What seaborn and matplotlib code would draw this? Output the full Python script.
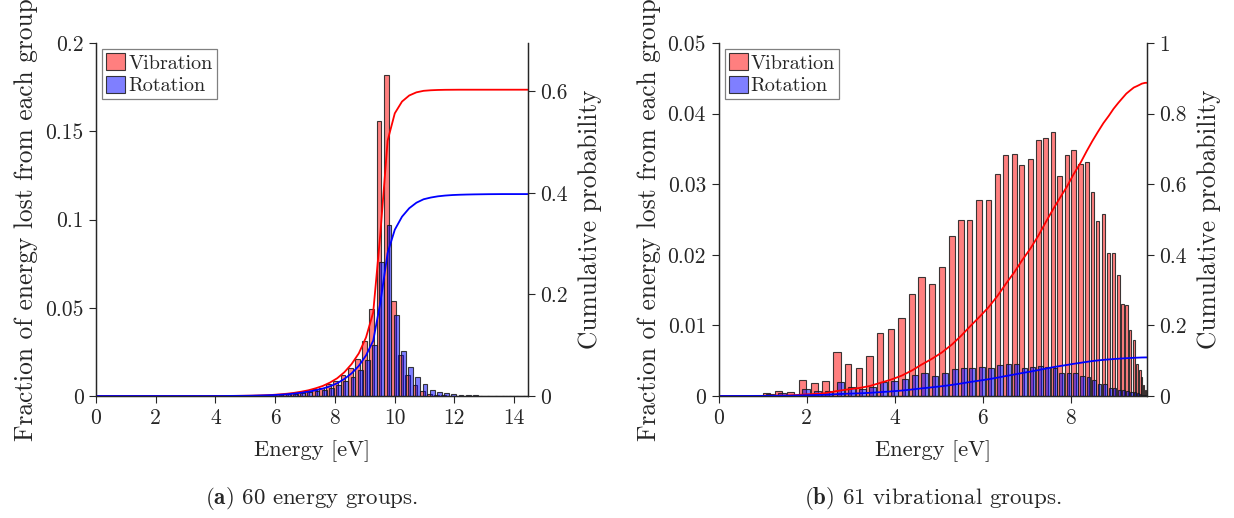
import numpy as np
import matplotlib
matplotlib.use("Agg")
import matplotlib.pyplot as plt
from matplotlib.ticker import FuncFormatter
from matplotlib.patches import Patch
import seaborn as sns

# ---------------- (a) 60 energy groups ----------------
E_MAX_A = 14.47
group_energy_a = [
    0.121, 0.362, 0.603, 0.844, 1.085, 1.326, 1.567, 1.809, 2.050, 2.291,
    2.532, 2.773, 3.015, 3.256, 3.497, 3.738, 3.979, 4.220, 4.462, 4.703,
    4.944, 5.185, 5.426, 5.667, 5.908, 6.150, 6.391, 6.632, 6.873, 7.114,
    7.356, 7.597, 7.838, 8.079, 8.320, 8.561, 8.803, 9.044, 9.285, 9.526,
    9.767, 10.008, 10.250, 10.491, 10.732, 10.973, 11.214, 11.455, 11.697, 11.938,
    12.179, 12.420, 12.661, 12.902, 13.144, 13.385, 13.626, 13.867, 14.108, 14.349,
]
vib_frac_a = [
    0, 0, 0, 0, 0, 0, 0, 0, 0, 0,
    0, 0, 0, 0, 0, 0, 0, 0.00005, 0.0001, 0.0001,
    0.0002, 0.0002, 0.0003, 0.0005, 0.0007, 0.0010, 0.0013, 0.0017, 0.0023, 0.0028,
    0.0039, 0.0047, 0.0066, 0.0085, 0.0119, 0.0160, 0.0211, 0.0313, 0.0493, 0.1560,
    0.1820, 0.0540, 0.0232, 0.0119, 0.0062, 0.0030, 0.0011, 0.0006, 0.0003, 0.0001,
    0.0001, 0, 0, 0, 0, 0, 0, 0, 0, 0,
]
rot_frac_a = [
    0, 0, 0, 0, 0, 0, 0, 0, 0, 0,
    0, 0, 0, 0, 0, 0, 0, 0.00005, 0.0001, 0.0001,
    0.0001, 0.0002, 0.0003, 0.0004, 0.0005, 0.0007, 0.0010, 0.0013, 0.0017, 0.0021,
    0.0027, 0.0034, 0.0044, 0.0061, 0.0085, 0.0109, 0.0147, 0.0206, 0.0289, 0.0757,
    0.0970, 0.0459, 0.0257, 0.0166, 0.0109, 0.0068, 0.0034, 0.0024, 0.0015, 0.0010,
    0.0006, 0.0004, 0.0003, 0.0002, 0.0002, 0.0001, 0.0001, 0, 0, 0,
]
x_ticks_a = [0, 2, 4, 6, 8, 10, 12, 14]
y_ticks_a = [0, 0.05, 0.1, 0.15, 0.2]
cum_ticks_a = [0, 0.2, 0.4, 0.6]
CUM_MAX_A = 0.695

# ---------------- (b) vibrational groups ----------------
E_MAX_B = 9.73
group_energy_b = [
    1.09, 1.36, 1.63, 1.91, 2.17, 2.42, 2.69, 2.94, 3.19, 3.43,
    3.67, 3.92, 4.16, 4.39, 4.61, 4.84, 5.07, 5.30, 5.51, 5.70,
    5.92, 6.13, 6.33, 6.52, 6.72, 6.89, 7.08, 7.26, 7.42, 7.59,
    7.74, 7.91, 8.06, 8.22, 8.36, 8.49, 8.61, 8.74, 8.86, 8.97,
    9.08, 9.17, 9.26, 9.35, 9.43, 9.51, 9.57, 9.61, 9.66, 9.69,
]
vib_frac_b = [
    0.0004, 0.00075, 0.0005, 0.0023, 0.0018, 0.0021, 0.0063, 0.0045, 0.0039, 0.0056,
    0.0089, 0.0095, 0.0111, 0.0145, 0.0168, 0.0159, 0.0183, 0.0226, 0.0249, 0.0250,
    0.0277, 0.0278, 0.0315, 0.0342, 0.0343, 0.0327, 0.0335, 0.0362, 0.0365, 0.0374,
    0.0311, 0.0342, 0.0348, 0.0329, 0.0331, 0.0289, 0.0248, 0.0258, 0.0203, 0.0202,
    0.0171, 0.0130, 0.0129, 0.0093, 0.0080, 0.0045, 0.0037, 0.0027, 0.0016, 0.0008,
]
rot_frac_b = [
    0.0003, 0.0004, 0.0002, 0.0010, 0.0007, 0.0007, 0.0020, 0.0013, 0.0010, 0.0013,
    0.0020, 0.0021, 0.0024, 0.0030, 0.0032, 0.0029, 0.0032, 0.0038, 0.0040, 0.0039,
    0.0041, 0.0040, 0.0044, 0.0046, 0.0045, 0.0040, 0.0041, 0.0042, 0.0041, 0.0040,
    0.0032, 0.0033, 0.0032, 0.0029, 0.0027, 0.0023, 0.0017, 0.0017, 0.0012, 0.0011,
    0.0009, 0.0008, 0.0007, 0.0006, 0.0005, 0.0004, 0.0003, 0.0002, 0.0001, 0.0001,
]
x_ticks_b = [0, 2, 4, 6, 8]
y_ticks_b = [0, 0.01, 0.02, 0.03, 0.04, 0.05]
cum_ticks_b = [0, 0.2, 0.4, 0.6, 0.8, 1.0]
CUM_MAX_B = 1.0

labels = ["Vibration", "Rotation"]
captions = [r"$\mathbf{(a)}$ 60 energy groups.", r"$\mathbf{(b)}$ 61 vibrational groups."]

# ---------------- style ----------------
sns.set_theme(style="ticks")
FS_TICK = 15.5
FS_XLABEL = 16.2
FS_YLABEL = 18.3
FS_LEGEND = 14.5
FS_CAPTION = 16.5
INK = "#262626"
plt.rcParams.update({
    "font.family": "serif",
    "font.serif": ["cmr10"],
    "mathtext.fontset": "cm",
    "axes.unicode_minus": False,
    "axes.formatter.use_mathtext": True,
    "axes.edgecolor": INK,
    "axes.linewidth": 0.9,
    "xtick.color": INK,
    "ytick.color": INK,
    "xtick.direction": "out",
    "ytick.direction": "out",
    "xtick.major.size": 5,
    "ytick.major.size": 5,
    "xtick.major.width": 0.8,
    "ytick.major.width": 0.8,
})

VIB_FILL = (1.0, 0.0, 0.0, 0.5)
ROT_FILL = (0.0, 0.0, 1.0, 0.5)
EDGE = (0.1, 0.1, 0.1, 0.85)
fmt = FuncFormatter(lambda v, _: f"{v:g}")

fig = plt.figure(figsize=(12.34, 5.18), dpi=100)
W, H = 1234, 518
ax_a = fig.add_axes([96 / W, 122 / H, 432 / W, 353 / H])
ax_b = fig.add_axes([718.5 / W, 122 / H, 428.5 / W, 353 / H])


def draw_panel(ax, energy, vib, rot, bar_w, vib_x, rot_x, e_max, cum_max,
               xt, yt, ct, ylim):
    energy = np.asarray(energy)
    vib = np.asarray(vib)
    rot = np.asarray(rot)
    ax.bar(vib_x, vib, width=bar_w, color=VIB_FILL, edgecolor=EDGE,
           linewidth=0.8, align="center", zorder=2)
    ax.bar(rot_x, rot, width=bar_w, color=ROT_FILL, edgecolor=EDGE,
           linewidth=0.8, align="center", zorder=3)
    ax.set_xlim(0, e_max)
    ax.set_ylim(*ylim)
    ax.set_xticks(xt)
    ax.set_yticks(yt)
    ax.yaxis.set_major_formatter(fmt)
    ax.xaxis.set_major_formatter(fmt)
    ax.tick_params(labelsize=FS_TICK, pad=4)
    ax.set_xlabel("Energy [eV]", fontsize=FS_XLABEL, labelpad=9)
    ax.set_ylabel("Fraction of energy lost from each group", fontsize=FS_YLABEL, labelpad=5)
    ax.spines["top"].set_visible(False)

    # cumulative probability on a second y axis
    tw = ax.twinx()
    cx = np.concatenate([[0.0], energy, [e_max]])
    cv = np.cumsum(vib)
    cr = np.cumsum(rot)
    sns.lineplot(x=cx, y=np.concatenate([[0.0], cv, [cv[-1]]]), ax=tw,
                 color="#ff0000", linewidth=1.3, errorbar=None, legend=False)
    sns.lineplot(x=cx, y=np.concatenate([[0.0], cr, [cr[-1]]]), ax=tw,
                 color="#0000ff", linewidth=1.3, errorbar=None, legend=False)
    tw.set_xlim(0, e_max)
    tw.set_ylim(0, cum_max)
    tw.set_yticks(ct)
    tw.yaxis.set_major_formatter(fmt)
    tw.tick_params(labelsize=FS_TICK, pad=4)
    tw.set_ylabel("Cumulative probability", fontsize=FS_YLABEL, labelpad=7)
    tw.spines["top"].set_visible(False)

    handles = [Patch(facecolor=VIB_FILL, edgecolor=EDGE, linewidth=0.8, label=labels[0]),
               Patch(facecolor=ROT_FILL, edgecolor=EDGE, linewidth=0.8, label=labels[1])]
    leg = tw.legend(handles=handles, loc="upper left", fontsize=FS_LEGEND, frameon=True,
                    fancybox=False, framealpha=1, edgecolor="#808080",
                    borderpad=0.2, handlelength=0.95, handleheight=0.95,
                    handletextpad=0.15, labelspacing=0.15, borderaxespad=0.3)
    leg.get_frame().set_linewidth(0.9)
    return tw


# (a) uniform groups: Vibration bar just left, Rotation bar just right of centre
ea = np.asarray(group_energy_a)
draw_panel(ax_a, ea, vib_frac_a, rot_frac_a, 0.16, ea - 0.045, ea + 0.045,
           E_MAX_A, CUM_MAX_A, x_ticks_a, y_ticks_a, cum_ticks_a, (0, 0.2))

# (b) vibrational groups get closer together at high energy
eb = np.asarray(group_energy_b)
spacing_b = np.gradient(eb)
draw_panel(ax_b, eb, vib_frac_b, rot_frac_b, 0.62 * spacing_b, eb, eb + 0.3 * spacing_b,
           E_MAX_B, CUM_MAX_B, x_ticks_b, y_ticks_b, cum_ticks_b, (0, 0.05))

for ax, cap in zip([ax_a, ax_b], captions):
    pos = ax.get_position()
    fig.text((pos.x0 + pos.x1) / 2, 20 / H, cap, ha="center", va="center", fontsize=FS_CAPTION)

fig.savefig("out.png", dpi=100)
